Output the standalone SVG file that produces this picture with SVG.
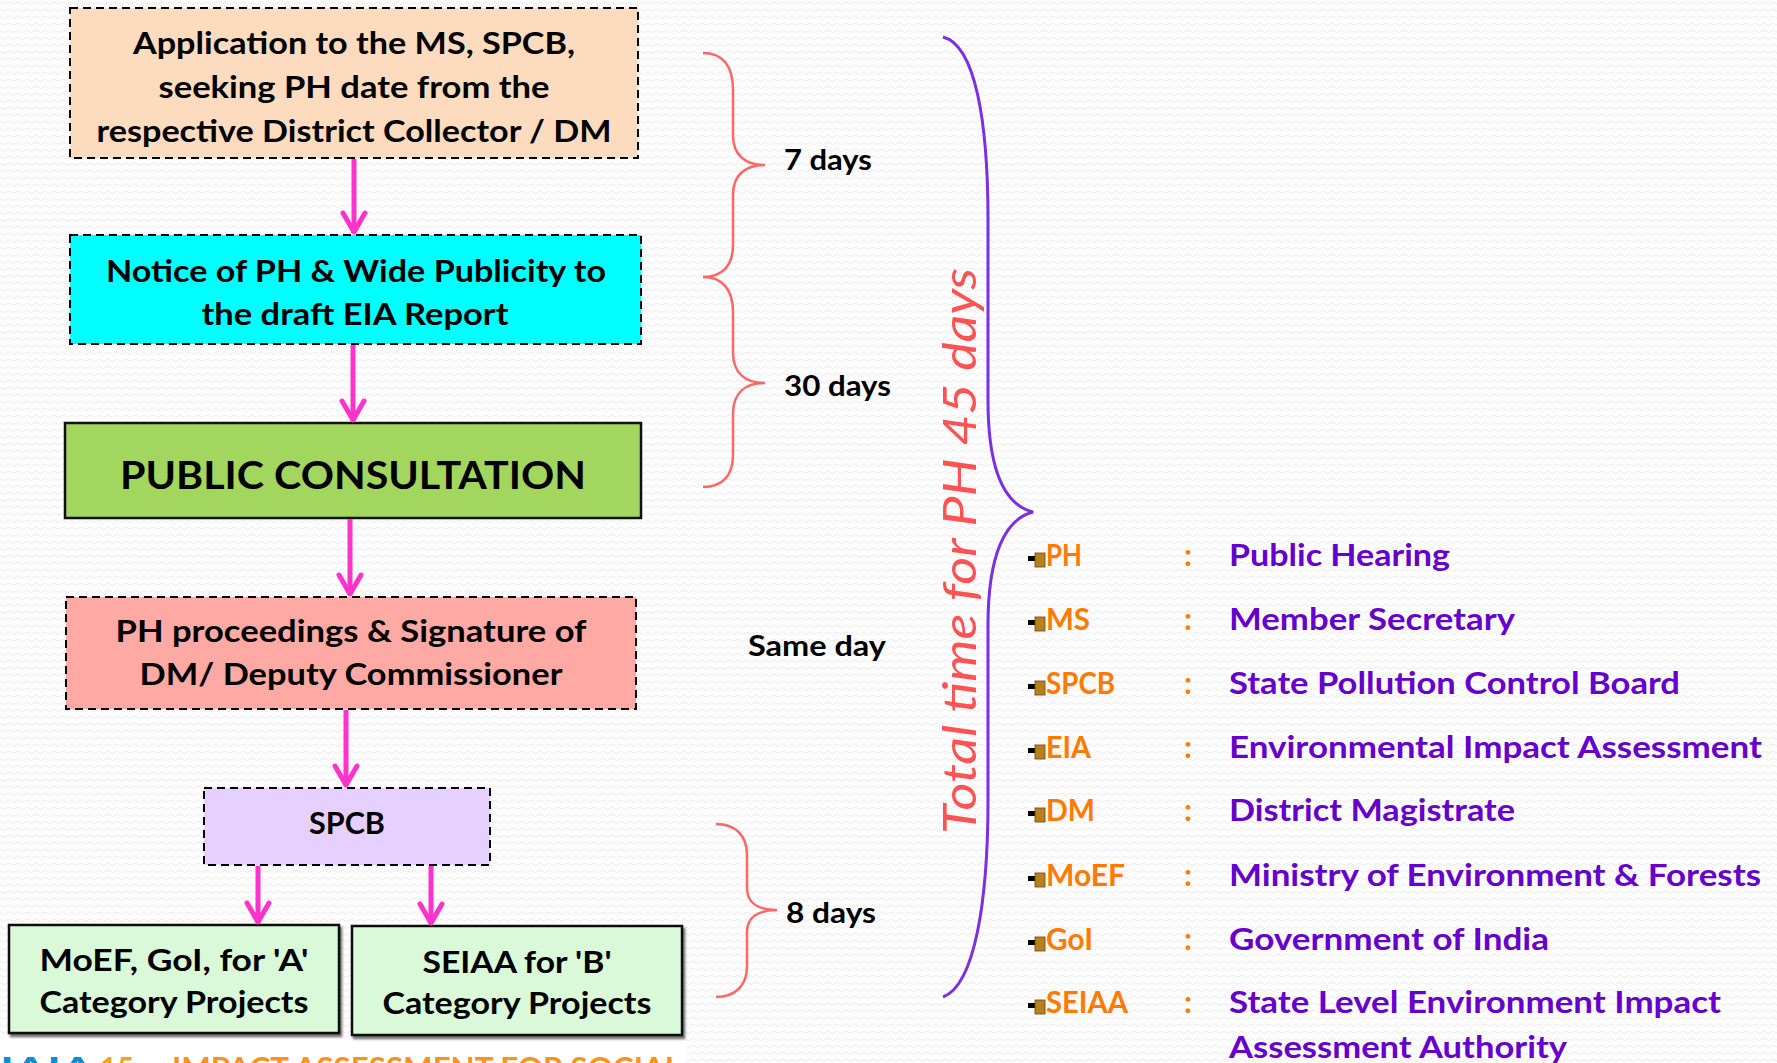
<svg xmlns="http://www.w3.org/2000/svg" width="1777" height="1063" viewBox="0 0 1777 1063">
  <defs>
    <pattern id="bg" width="9" height="7" patternUnits="userSpaceOnUse">
      <rect width="9" height="7" fill="#fdfdfd"/>
      <polyline points="0,2 4.5,4.5 9,2" fill="none" stroke="#ececec" stroke-width="1"/>
    </pattern>
    <marker id="head" markerUnits="userSpaceOnUse" viewBox="-26 -16 30 32" refX="0" refY="0" markerWidth="30" markerHeight="32" orient="auto">
      <path d="M -20 -11 L -1 0 L -20 11" fill="none" stroke="#ff33cc" stroke-width="5" stroke-linejoin="round" stroke-linecap="round"/>
    </marker>
    <filter id="shadow" x="-5%" y="-5%" width="115%" height="115%">
      <feDropShadow dx="2" dy="3" stdDeviation="1" flood-color="#000" flood-opacity="0.55"/>
    </filter>
  </defs>
  <style>
    .box { stroke: #000; stroke-width: 2; stroke-dasharray: 8 5; }
    .solid { stroke: #111; stroke-width: 2.5; }
    .t { font-family: Lato, "Liberation Sans", sans-serif; font-weight: bold; fill: #000; text-anchor: middle; }
    .b31 { font-size: 31px; }
    .days { font-family: Lato, "Liberation Sans", sans-serif; font-weight: bold; font-size: 28px; fill: #000; }
    .conn { stroke: #ff33cc; stroke-width: 5; fill: none; marker-end: url(#head); }
    .brace { fill: none; stroke: #ff6666; stroke-width: 2.5; }
    .pbrace { fill: none; stroke: #7b2fe0; stroke-width: 3; }
    .ab { font-family: Lato, "Liberation Sans", sans-serif; font-weight: bold; font-size: 31px; fill: #ff7a00; }
    .df { font-family: Lato, "Liberation Sans", sans-serif; font-weight: bold; font-size: 31px; fill: #6600cc; }
    .sq { fill: #b8801e; stroke: #6b4410; stroke-width: 0.8; }
    .bar { fill: #000; }
  </style>

  <rect width="1777" height="1063" fill="url(#bg)"/>
  <rect x="0" y="1038" width="686" height="25" fill="#ffffff"/>

  <g id="node-application">
    <rect class="box" x="70" y="8" width="568" height="150" fill="#fcdbbf"/>
    <text class="t b31" x="354" y="54" textLength="442" lengthAdjust="spacingAndGlyphs">Application to the MS, SPCB,</text>
    <text class="t b31" x="354" y="98" textLength="391" lengthAdjust="spacingAndGlyphs">seeking PH date from the</text>
    <text class="t b31" x="354" y="142" textLength="515" lengthAdjust="spacingAndGlyphs">respective District Collector / DM</text>
  </g>

  <g id="node-notice">
    <rect class="box" x="70" y="235" width="571" height="109" fill="#00ffff"/>
    <text class="t b31" x="356" y="282" textLength="500" lengthAdjust="spacingAndGlyphs">Notice of PH &amp; Wide Publicity to</text>
    <text class="t b31" x="355" y="325" textLength="307" lengthAdjust="spacingAndGlyphs">the draft EIA Report</text>
  </g>

  <g id="node-public-consultation">
    <rect class="solid" x="65" y="423" width="576" height="95" fill="#a2d65f"/>
    <text class="t" style="font-size:39px" x="353" y="489" textLength="466" lengthAdjust="spacingAndGlyphs">PUBLIC CONSULTATION</text>
  </g>

  <g id="node-proceedings">
    <rect class="box" x="66" y="597" width="570" height="112" fill="#fea9a3"/>
    <text class="t b31" x="351" y="642" textLength="471" lengthAdjust="spacingAndGlyphs">PH proceedings &amp; Signature of</text>
    <text class="t b31" x="351" y="685" textLength="423" lengthAdjust="spacingAndGlyphs">DM/ Deputy Commissioner</text>
  </g>

  <g id="node-spcb">
    <rect class="box" x="204" y="788" width="286" height="77" fill="#e6d0ff"/>
    <text class="t" style="font-size:30px" x="347" y="834" textLength="76" lengthAdjust="spacingAndGlyphs">SPCB</text>
  </g>

  <g id="node-moef">
    <rect class="solid" x="9" y="925" width="330" height="108" fill="#d9f9d9" filter="url(#shadow)"/>
    <text class="t" style="font-size:30px" x="174" y="971" textLength="269" lengthAdjust="spacingAndGlyphs">MoEF, GoI, for 'A'</text>
    <text class="t" style="font-size:30px" x="174" y="1013" textLength="269" lengthAdjust="spacingAndGlyphs">Category Projects</text>
  </g>

  <g id="node-seiaa">
    <rect class="solid" x="352" y="926" width="330" height="109" fill="#d9f9d9" filter="url(#shadow)"/>
    <text class="t" style="font-size:30px" x="517" y="973" textLength="189" lengthAdjust="spacingAndGlyphs">SEIAA for 'B'</text>
    <text class="t" style="font-size:30px" x="517" y="1014" textLength="269" lengthAdjust="spacingAndGlyphs">Category Projects</text>
  </g>

  <g id="connectors">
    <line class="conn" x1="354" y1="159" x2="354" y2="233"/>
    <line class="conn" x1="353" y1="345" x2="353" y2="421"/>
    <line class="conn" x1="350" y1="519" x2="350" y2="595"/>
    <line class="conn" x1="346" y1="710" x2="346" y2="786"/>
    <line class="conn" x1="258" y1="866" x2="258" y2="923"/>
    <line class="conn" x1="431" y1="866" x2="431" y2="924"/>
  </g>

  <g id="timeline">
    <path class="brace" d="M703,53 C722,53 733,65 733,90 L733,135 C733,155 745,165 765,165 C745,165 733,175 733,195 L733,245 C733,266 722,277 703,277"/>
    <path class="brace" d="M703,277 C722,277 733,289 733,312 L733,352 C733,373 745,383 765,383 C745,383 733,393 733,414 L733,455 C733,476 722,487 703,487"/>
    <path class="brace" d="M716,824 C735,824 747,835 747,855 L747,888 C747,902 757,910 777,910 C757,910 747,918 747,932 L747,966 C747,986 735,997 716,997"/>
    <text class="days" x="784" y="170" textLength="88" lengthAdjust="spacingAndGlyphs">7 days</text>
    <text class="days" x="784" y="396" textLength="107" lengthAdjust="spacingAndGlyphs">30 days</text>
    <text class="days" x="748" y="656" textLength="138" lengthAdjust="spacingAndGlyphs">Same day</text>
    <text class="days" x="786" y="923" textLength="90" lengthAdjust="spacingAndGlyphs">8 days</text>
    <path class="pbrace" d="M943,37 C975,45 988,120 988,220 L988,400 C988,470 1005,505 1033,512 C1005,519 988,555 988,625 L988,800 C988,900 975,985 943,997"/>
    <text transform="translate(976,551) rotate(-90)" x="0" y="0" text-anchor="middle" font-family="Lato, 'Liberation Sans', sans-serif" font-style="italic" font-size="46" fill="#ff5252" textLength="566" lengthAdjust="spacingAndGlyphs">Total time for  PH 45 days</text>
  </g>

  <g id="legend">
    <g id="legend-ph">
      <rect class="bar" x="1028" y="556" width="9" height="5"/><rect class="sq" x="1035" y="553" width="10" height="14"/>
      <text class="ab" x="1046" y="566" textLength="36" lengthAdjust="spacingAndGlyphs">PH</text>
      <text class="ab" x="1184" y="566">:</text>
      <text class="df" x="1229" y="566" textLength="221" lengthAdjust="spacingAndGlyphs">Public Hearing</text>
    </g>
    <g id="legend-ms">
      <rect class="bar" x="1028" y="620" width="9" height="5"/><rect class="sq" x="1035" y="617" width="10" height="14"/>
      <text class="ab" x="1046" y="630" textLength="44" lengthAdjust="spacingAndGlyphs">MS</text>
      <text class="ab" x="1184" y="630">:</text>
      <text class="df" x="1229" y="630" textLength="286" lengthAdjust="spacingAndGlyphs">Member Secretary</text>
    </g>
    <g id="legend-spcb">
      <rect class="bar" x="1028" y="684" width="9" height="5"/><rect class="sq" x="1035" y="681" width="10" height="14"/>
      <text class="ab" x="1046" y="694" textLength="69" lengthAdjust="spacingAndGlyphs">SPCB</text>
      <text class="ab" x="1184" y="694">:</text>
      <text class="df" x="1229" y="694" textLength="451" lengthAdjust="spacingAndGlyphs">State Pollution Control Board</text>
    </g>
    <g id="legend-eia">
      <rect class="bar" x="1028" y="748" width="9" height="5"/><rect class="sq" x="1035" y="745" width="10" height="14"/>
      <text class="ab" x="1046" y="758" textLength="45" lengthAdjust="spacingAndGlyphs">EIA</text>
      <text class="ab" x="1184" y="758">:</text>
      <text class="df" x="1229" y="758" textLength="533" lengthAdjust="spacingAndGlyphs">Environmental Impact Assessment</text>
    </g>
    <g id="legend-dm">
      <rect class="bar" x="1028" y="811" width="9" height="5"/><rect class="sq" x="1035" y="808" width="10" height="14"/>
      <text class="ab" x="1046" y="821" textLength="49" lengthAdjust="spacingAndGlyphs">DM</text>
      <text class="ab" x="1184" y="821">:</text>
      <text class="df" x="1229" y="821" textLength="286" lengthAdjust="spacingAndGlyphs">District Magistrate</text>
    </g>
    <g id="legend-moef">
      <rect class="bar" x="1028" y="876" width="9" height="5"/><rect class="sq" x="1035" y="873" width="10" height="14"/>
      <text class="ab" x="1046" y="886" textLength="79" lengthAdjust="spacingAndGlyphs">MoEF</text>
      <text class="ab" x="1184" y="886">:</text>
      <text class="df" x="1229" y="886" textLength="532" lengthAdjust="spacingAndGlyphs">Ministry of Environment &amp; Forests</text>
    </g>
    <g id="legend-goi">
      <rect class="bar" x="1028" y="940" width="9" height="5"/><rect class="sq" x="1035" y="937" width="10" height="14"/>
      <text class="ab" x="1046" y="950" textLength="47" lengthAdjust="spacingAndGlyphs">GoI</text>
      <text class="ab" x="1184" y="950">:</text>
      <text class="df" x="1229" y="950" textLength="320" lengthAdjust="spacingAndGlyphs">Government of India</text>
    </g>
    <g id="legend-seiaa">
      <rect class="bar" x="1028" y="1003" width="9" height="5"/><rect class="sq" x="1035" y="1000" width="10" height="14"/>
      <text class="ab" x="1046" y="1013" textLength="82" lengthAdjust="spacingAndGlyphs">SEIAA</text>
      <text class="ab" x="1184" y="1013">:</text>
      <text class="df" x="1229" y="1013" textLength="492" lengthAdjust="spacingAndGlyphs">State Level Environment Impact</text>
      <text class="df" x="1229" y="1058" textLength="338" lengthAdjust="spacingAndGlyphs">Assessment Authority</text>
    </g>
  </g>

  <g id="footer" font-family="Lato, 'Liberation Sans', sans-serif" font-weight="bold" font-size="30">
    <text x="0" y="1079" fill="#0b8fd3" textLength="94" lengthAdjust="spacingAndGlyphs">IAIA</text>
    <text x="100" y="1079" fill="#f7a21b" textLength="34" lengthAdjust="spacingAndGlyphs">15</text>
    <text x="172" y="1079" fill="#f7941d" textLength="509" lengthAdjust="spacingAndGlyphs">IMPACT ASSESSMENT FOR SOCIAL</text>
  </g>
</svg>
